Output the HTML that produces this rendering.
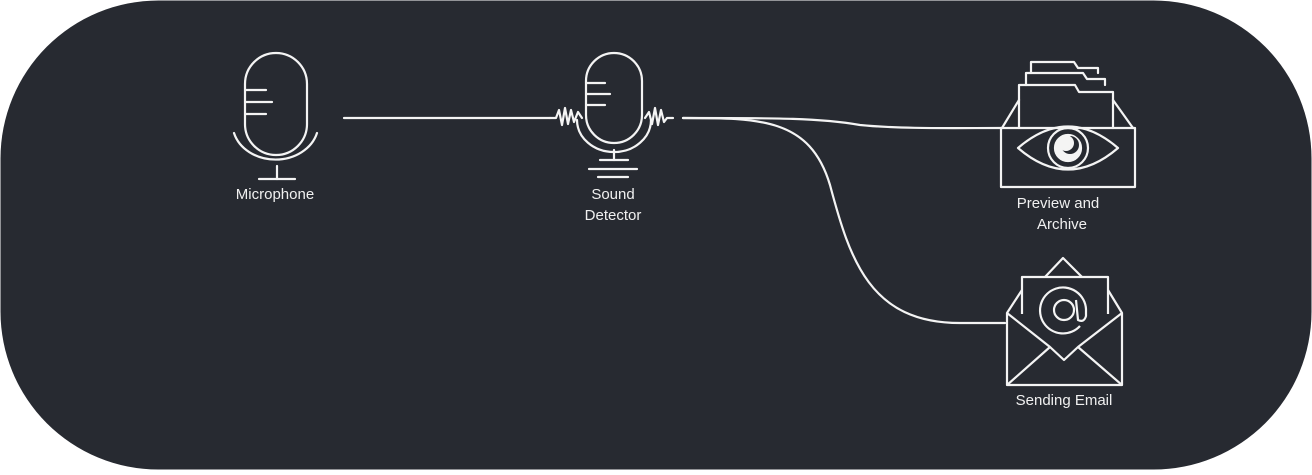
<!DOCTYPE html>
<html><head><style>
html,body{margin:0;padding:0;background:#fff;}
body{width:1312px;height:470px;overflow:hidden;}
text{font-family:"Liberation Sans",sans-serif;font-size:15px;fill:#f0f0f0;text-anchor:middle;}
</style></head><body>
<svg width="1312" height="470" viewBox="0 0 1312 470">
<rect x="0.5" y="0.5" width="1311" height="469" rx="158" ry="158" fill="#272a31"/>
<g fill="none" stroke="#f4f4f4" stroke-width="2.2" stroke-linecap="round" stroke-linejoin="round">
<rect x="245" y="53" width="62" height="102" rx="31"/>
<line x1="246" y1="90" x2="266" y2="90"/><line x1="246" y1="102" x2="272" y2="102"/><line x1="246" y1="114" x2="266" y2="114"/>
<path d="M234 133 A43 36 0 0 0 317 133"/>
<line x1="277" y1="166" x2="277" y2="179"/><line x1="259" y1="179" x2="295" y2="179"/>
<line x1="344" y1="118" x2="550" y2="118"/>
<rect x="586" y="53" width="56" height="90" rx="28"/>
<line x1="587" y1="83" x2="605" y2="83"/><line x1="587" y1="94" x2="610" y2="94"/><line x1="587" y1="105" x2="605" y2="105"/>
<path d="M577 120 A37 32 0 0 0 651 120"/>
<line x1="614" y1="150" x2="614" y2="160"/><line x1="600" y1="160" x2="628" y2="160"/>
<line x1="589" y1="169" x2="637" y2="169"/><line x1="598" y1="177" x2="628" y2="177"/>
<path d="M550 118 L556 118 L559 110 L562 125 L565 108 L568 124 L571 110 L574 122 L578 112 L582 118"/>
<path d="M645 118 L649 112 L652 124 L655 108 L658 125 L661 110 L664 122 L667 118 L673 118"/>
<path d="M683 118 C780 118 820 118 860 125 C900 129 950 128 1001 128"/>
<path d="M683 118 C760 118 810 118 830 185 C850 260 870 323 960 323 L1005 323"/>
<path d="M1031 62 L1074 62 L1078 68 L1098 68 L1098 73 M1031 62 L1031 73"/>
<path d="M1026 73 L1083 73 L1087 79 L1105 79 L1105 85 M1026 73 L1026 85"/>
<path d="M1019 85 L1075 85 L1079 92 L1113 92 L1113 128 M1019 85 L1019 128"/>
<path d="M1019 100 L1002 128 M1113 100 L1133 128"/>
<rect x="1001" y="128" width="134" height="59"/>
<path d="M1018 148 Q1068 105 1118 148 Q1068 191 1018 148 Z"/>
<circle cx="1068" cy="148" r="20"/>
<circle cx="1068" cy="148" r="13" fill="#f4f4f4"/>
</g>
<circle cx="1070" cy="145" r="9" fill="#272a31"/>
<circle cx="1066" cy="143" r="8" fill="#f4f4f4"/>
<g fill="none" stroke="#f4f4f4" stroke-width="2.2" stroke-linejoin="round">
<path d="M1045 277 L1063 258 L1082 277"/>
<path d="M1022 314 L1022 277 L1108 277 L1108 314"/>
<path d="M1022 290 L1007 313 L1007 385 L1122 385 L1122 313 L1108 290"/>
<path d="M1007 313 L1050 347 L1064 360 L1078 347 L1122 313"/>
<path d="M1007 385 L1050 347 M1122 385 L1078 347"/>
<path d="M1080 326 A23 23 0 1 1 1086 309 L1086 316 Q1084 323 1078 320 L1076 300"/>
<circle cx="1064" cy="310" r="10"/>
</g>
<text x="275" y="199">Microphone</text>
<text x="613" y="199">Sound</text>
<text x="613" y="220">Detector</text>
<text x="1058" y="208">Preview and</text>
<text x="1062" y="229">Archive</text>
<text x="1064" y="405">Sending Email</text>
</svg>
</body></html>
